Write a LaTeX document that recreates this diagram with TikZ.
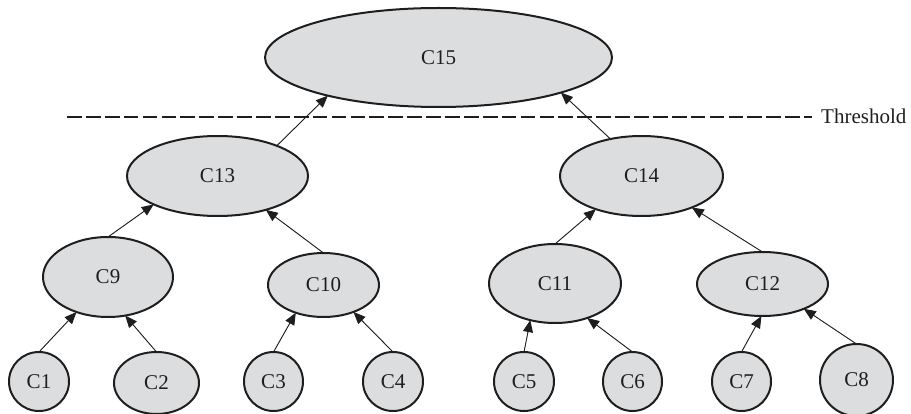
\documentclass[tikz,border=0pt]{standalone}
\usepackage{fontspec}
\setmainfont{Liberation Serif}
\usetikzlibrary{shapes.geometric,arrows.meta}
\definecolor{nodefill}{RGB}{220,221,223}
\definecolor{ink}{RGB}{30,30,30}
\begin{document}
\begin{tikzpicture}[x=1pt,y=-1pt,
  cl/.style={ellipse,draw=ink,fill=nodefill,line width=2pt,inner sep=0pt,outer sep=0pt,
     font=\fontsize{21}{25}\selectfont,text=ink},
  link/.style={-{Triangle[length=12pt,width=10pt]},line width=0.9pt,draw=ink,fill=ink}]
\clip (0,0) rectangle (911,414);
\node[cl,minimum width=347pt,minimum height=99pt] (C15) at (438.5,57.5) {C15};
\node[cl,minimum width=181pt,minimum height=80pt] (C13) at (217.5,176) {C13};
\node[cl,minimum width=163pt,minimum height=80pt] (C14) at (641.5,176) {C14};
\node[cl,minimum width=130pt,minimum height=80pt] (C9) at (108,277) {C9};
\node[cl,minimum width=111pt,minimum height=64pt] (C10) at (323.5,285) {C10};
\node[cl,minimum width=132pt,minimum height=79pt] (C11) at (555,283.5) {C11};
\node[cl,minimum width=131pt,minimum height=64pt] (C12) at (762.5,284) {C12};
\node[cl,minimum width=60pt,minimum height=59pt] (C1) at (39,381.5) {C1};
\node[cl,minimum width=85pt,minimum height=62pt] (C2) at (156.5,383) {C2};
\node[cl,minimum width=59pt,minimum height=59pt] (C3) at (273.5,381.5) {C3};
\node[cl,minimum width=60pt,minimum height=59pt] (C4) at (393,381.5) {C4};
\node[cl,minimum width=60pt,minimum height=59pt] (C5) at (524,381.5) {C5};
\node[cl,minimum width=59pt,minimum height=59pt] (C6) at (632.5,381.5) {C6};
\node[cl,minimum width=59pt,minimum height=59pt] (C7) at (741.5,381.5) {C7};
\node[cl,minimum width=73pt,minimum height=72pt] (C8) at (856.5,380) {C8};
% threshold
\node[anchor=west,inner sep=0pt,font=\fontsize{21}{25}\selectfont,text=ink] (thr) at (821,116) {Threshold};
\coordinate (dstart) at (67,117);
\draw[draw=ink,line width=2.6pt,dash pattern=on 14.7pt off 4.2pt] (dstart) -- ([xshift=-9pt]thr.west |- dstart);
% links
\draw[link] (C13.27) -- (C15.199);
\draw[link] (C14.130) -- (C15.-16);
\draw[link] (C9.north) -- (C13.204);
\draw[link] (C10.north) -- (C13.-35);
\draw[link] (C11.north) -- (C14.216);
\draw[link] (C12.north) -- (C14.-32);
\draw[link] (C1.north) -- (C9.228);
\draw[link] (C2.north) -- (C9.-66);
\draw[link] (C3.north) -- (C10.225);
\draw[link] (C4.north) -- (C10.-42);
\draw[link] (C5.north) -- (C11.236);
\draw[link] (C6.north) -- (C11.-47);
\draw[link] (C7.north) -- (C12.-92);
\draw[link] (C8.north) -- (C12.-31);
\end{tikzpicture}
\end{document}
